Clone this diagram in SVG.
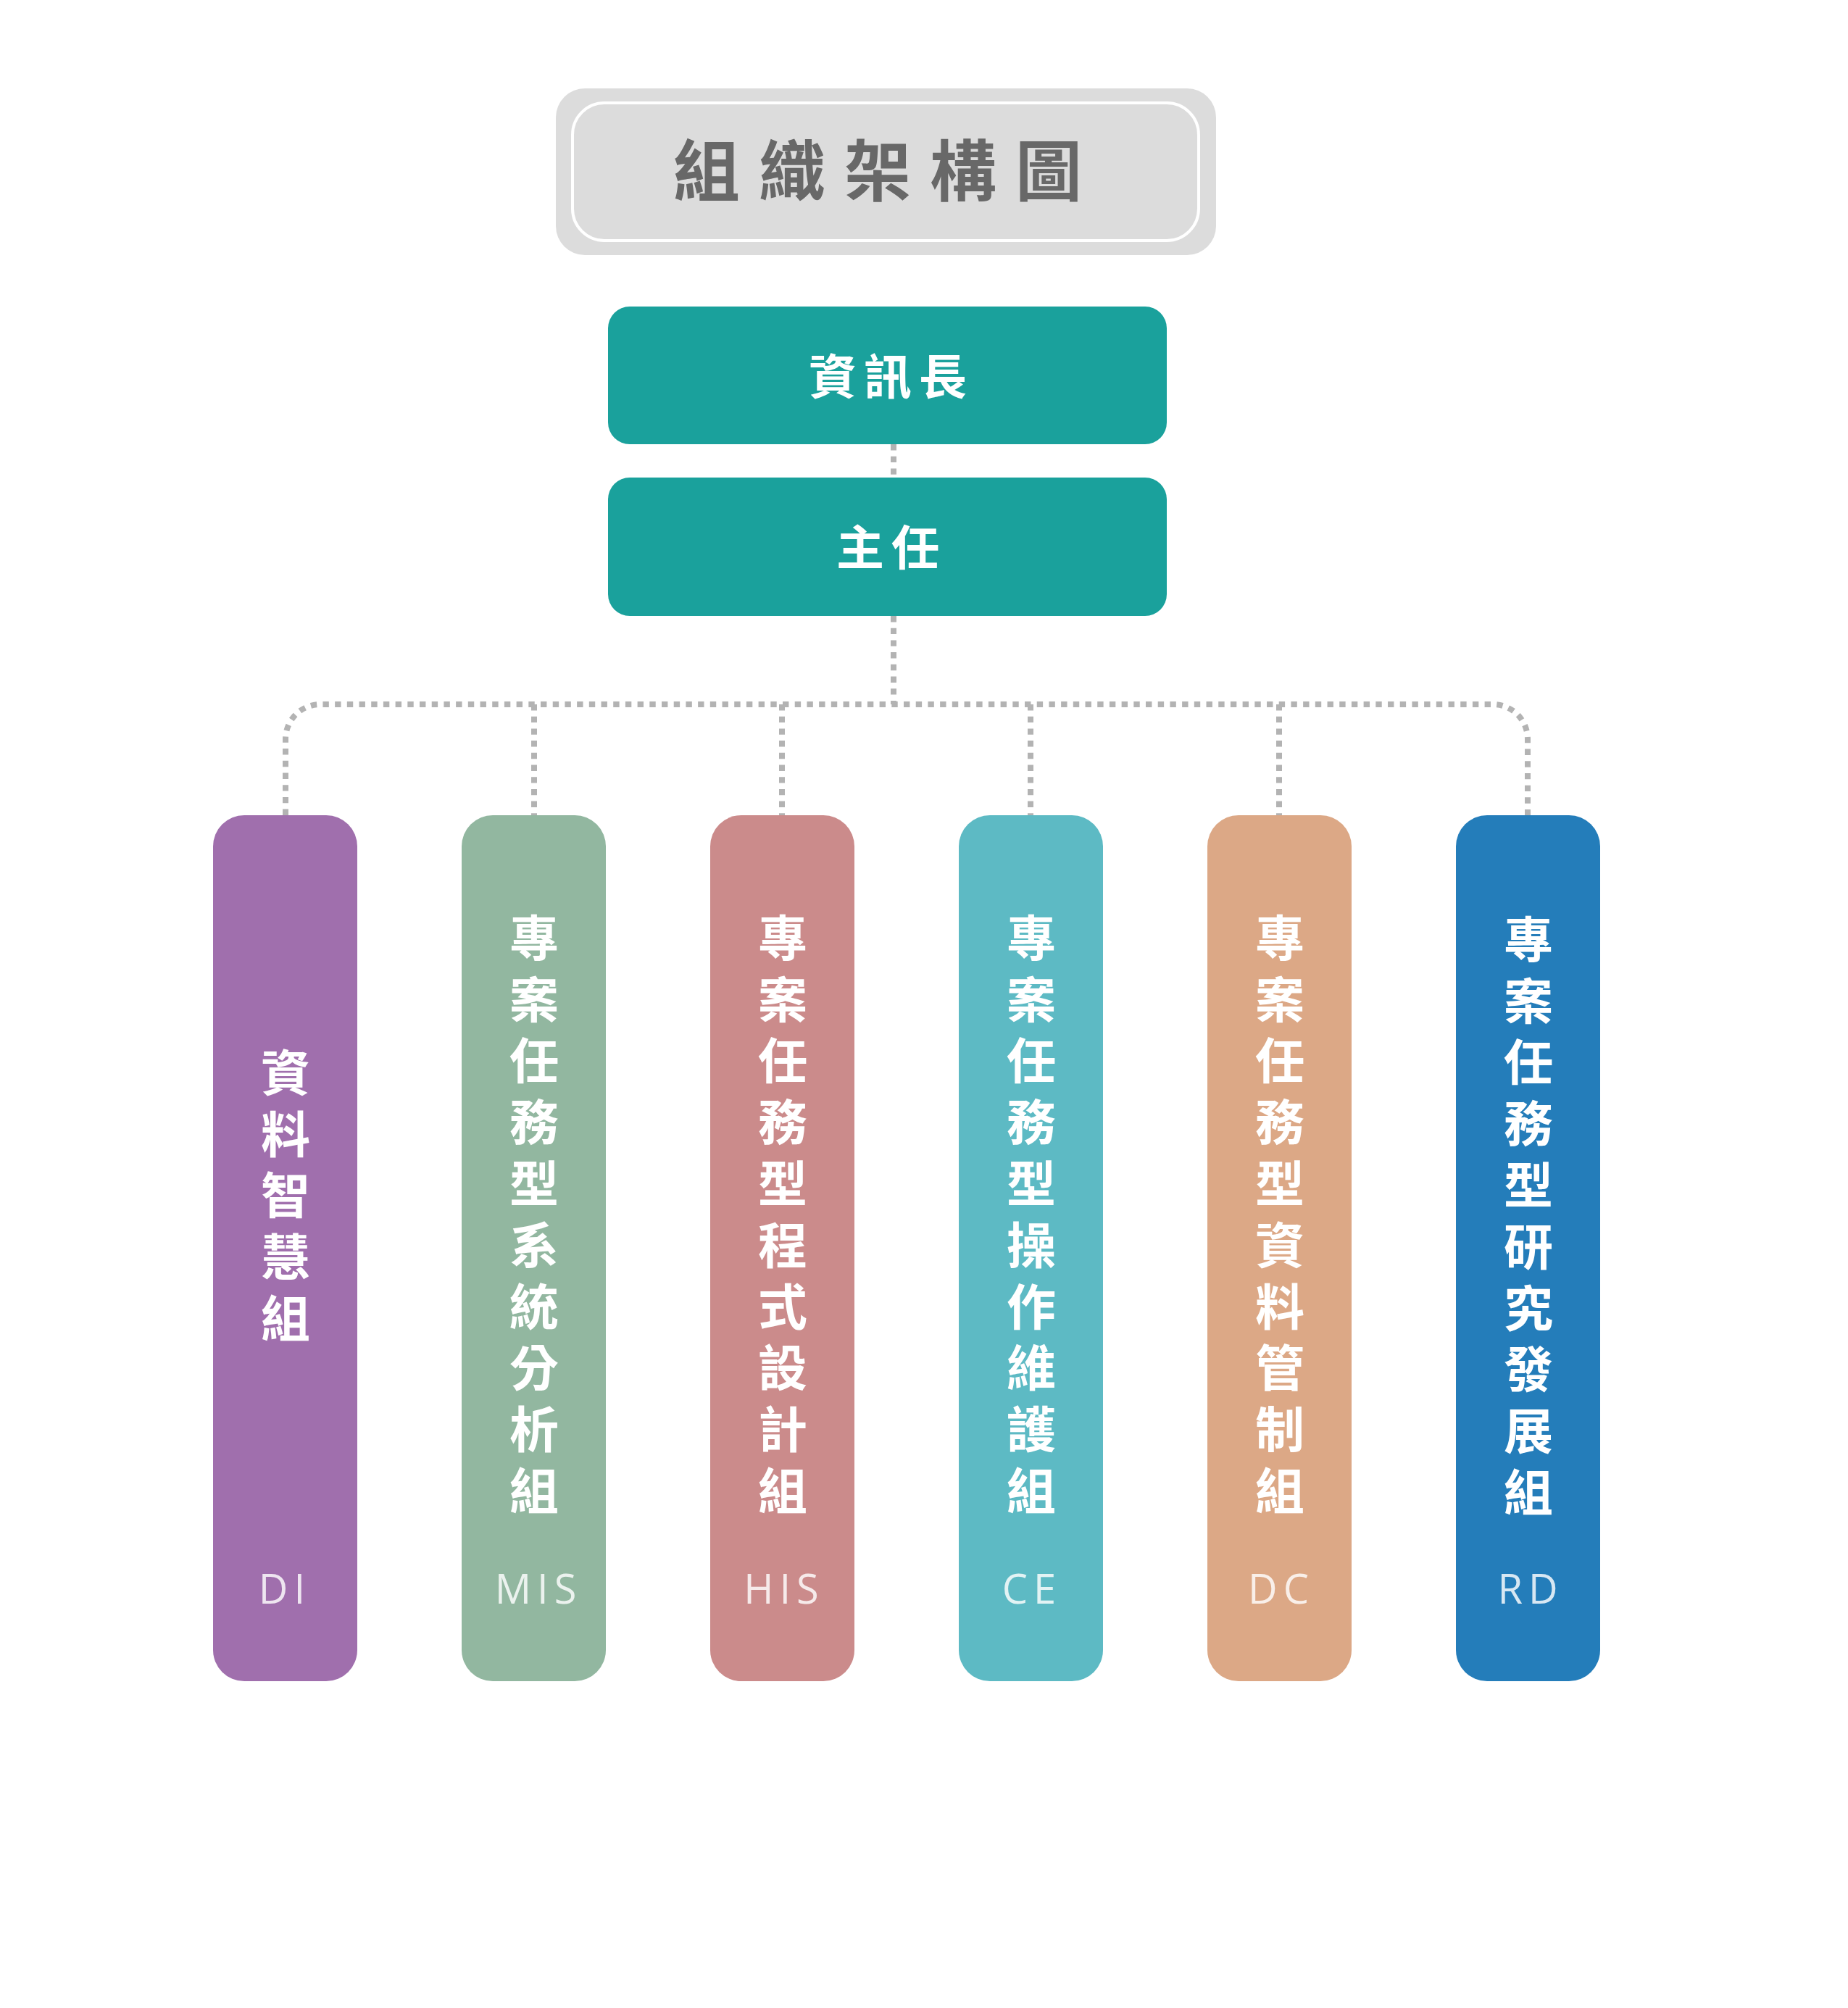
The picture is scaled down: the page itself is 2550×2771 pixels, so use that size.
<svg xmlns="http://www.w3.org/2000/svg" width="2550" height="2771" viewBox="0 0 2550 2771">
<style>
.cjk{font-family:"Noto Sans CJK TC","Noto Sans CJK SC",sans-serif;font-weight:700;}
.col{font-size:68px;fill:#ffffff;writing-mode:vertical-rl;text-orientation:upright;letter-spacing:16.8px;}
.abbr{font-family:"Open Sans","Noto Sans",sans-serif;font-size:56px;fill:#ffffff;fill-opacity:0.82;text-anchor:middle;letter-spacing:8px;}
.lead{fill:#1aa19c;}
.lead-t{font-size:66px;fill:#ffffff;text-anchor:middle;dominant-baseline:central;letter-spacing:10px;}
.conn{fill:none;stroke:#b3b3b3;stroke-width:8;stroke-dasharray:8.4 8.3;}
</style>
<rect width="2550" height="2771" fill="#ffffff"/>
<g id="connectors">
<path class="conn" d="M1233 613 V659"/>
<path class="conn" d="M1233 850 V972"/>
<path class="conn" d="M394 1125 V1020 A48 48 0 0 1 442 972 H2060 A48 48 0 0 1 2108 1020 V1125"/>
<path class="conn" d="M737 972 V1125"/>
<path class="conn" d="M1079 972 V1125"/>
<path class="conn" d="M1422 972 V1125"/>
<path class="conn" d="M1765 972 V1125"/>
</g>
<g id="title">
<rect x="767" y="122" width="911" height="230" rx="40" fill="#dcdcdc"/>
<rect x="790" y="142" width="864" height="190" rx="44" fill="none" stroke="#ffffff" stroke-width="4"/>
<text class="cjk" x="1224" y="229" font-size="92" fill="#686868" text-anchor="middle" dominant-baseline="central" letter-spacing="26">組織架構圖</text>
</g>
<g id="cio">
<rect class="lead" x="839" y="423" width="771" height="190" rx="30"/>
<text class="cjk lead-t" x="1230" y="515">資訊長</text>
</g>
<g id="director">
<rect class="lead" x="839" y="659" width="771" height="191" rx="30"/>
<text class="cjk lead-t" x="1230" y="751">主任</text>
</g>
<g id="di">
<rect x="294" y="1125" width="199" height="1195" rx="43" fill="#a06fad"/>
<text class="cjk col" x="394" y="1446">資料智慧組</text>
<text class="abbr" x="393" y="2213">DI</text>
</g>
<g id="mis">
<rect x="637" y="1125" width="199" height="1195" rx="43" fill="#92b7a0"/>
<text class="cjk col" x="737" y="1260">專案任務型系統分析組</text>
<text class="abbr" x="743" y="2213">MIS</text>
</g>
<g id="his">
<rect x="980" y="1125" width="199" height="1195" rx="43" fill="#cb8b8b"/>
<text class="cjk col" x="1080" y="1260">專案任務型程式設計組</text>
<text class="abbr" x="1082" y="2213">HIS</text>
</g>
<g id="ce">
<rect x="1323" y="1125" width="199" height="1195" rx="43" fill="#5dbac4"/>
<text class="cjk col" x="1423" y="1260">專案任務型操作維護組</text>
<text class="abbr" x="1424" y="2213">CE</text>
</g>
<g id="dc">
<rect x="1666" y="1125" width="199" height="1195" rx="43" fill="#dca886"/>
<text class="cjk col" x="1766" y="1260">專案任務型資料管制組</text>
<text class="abbr" x="1768" y="2213">DC</text>
</g>
<g id="rd">
<rect x="2009" y="1125" width="199" height="1195" rx="43" fill="#247dba"/>
<text class="cjk col" x="2109" y="1262">專案任務型研究發展組</text>
<text class="abbr" x="2112" y="2213">RD</text>
</g>
</svg>
